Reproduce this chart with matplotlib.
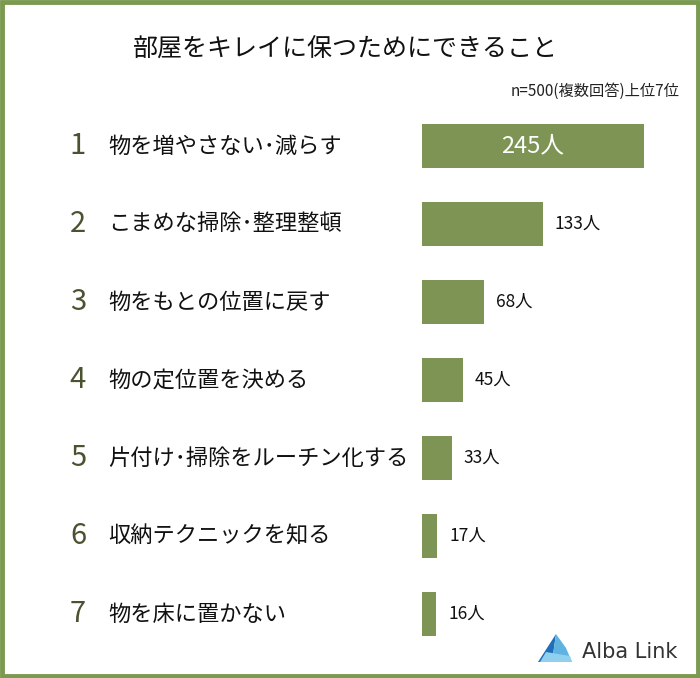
import matplotlib
matplotlib.use("Agg")
import matplotlib.pyplot as plt
from matplotlib.patches import Rectangle, Polygon

plt.rcParams['font.family'] = ['Noto Sans CJK JP', 'DejaVu Sans']

# data
ranks = ['1', '2', '3', '4', '5', '6', '7']
items = ['物を増やさない･減らす', 'こまめな掃除･整理整頓', '物をもとの位置に戻す',
         '物の定位置を決める', '片付け･掃除をルーチン化する', '収納テクニックを知る',
         '物を床に置かない']
counts = [245, 133, 68, 45, 33, 17, 16]

bar_color = '#7d9455'
frame_color = '#7a9a50'
W, H = 700, 678

fig = plt.figure(figsize=(7, 6.78), dpi=100)
fig.patch.set_facecolor('white')

# green frame
fig.patches.append(Rectangle((2 / W, 2 / H), 1 - 4 / W, 1 - 4 / H, transform=fig.transFigure,
                             fill=False, edgecolor=frame_color, linewidth=3.5))

# bar axes: x 422..680 px, y 107..653 px
ax = fig.add_axes([422 / W, 1 - 653 / H, 258 / W, 546 / H])
scale = 222 / 245  # px per person
ax.set_xlim(0, 258 / scale)
ax.set_ylim(len(counts) - 0.5, -0.5)
ypos = list(range(len(counts)))
ax.barh(ypos, counts, height=44 / 78, color=bar_color)
ax.axis('off')

for i, v in enumerate(counts):
    if i == 0:
        ax.text(v / 2, i, f'{v}人', color='white', fontsize=17, ha='center', va='center')
    else:
        ax.text(v + 12 / scale, i, f'{v}人', color='#111111', fontsize=12.5, ha='left', va='center')

# rank numbers and item labels
for i, (r, t) in enumerate(zip(ranks, items)):
    yc = 1 - (146 + 78 * i) / H
    fig.text(78 / W, yc, r, fontsize=21, color='#4a5230', ha='center', va='center')
    fig.text(108 / W, yc, t, fontsize=16, color='#111111', ha='left', va='center')

# title / subtitle
fig.text(345 / W, 1 - 50 / H, '部屋をキレイに保つためにできること', fontsize=18,
         color='#111111', ha='center', va='center')
fig.text(680 / W, 1 - 91 / H, 'n=500(複数回答)上位7位', fontsize=11,
         color='#222222', ha='right', va='center')

# logo
def fp(x, y):
    return (x / W, 1 - y / H)

fig.patches.append(Polygon([fp(556, 634), fp(538, 662), fp(552, 662)], closed=True,
                           transform=fig.transFigure, facecolor='#1d6fb8', edgecolor='none'))
fig.patches.append(Polygon([fp(556, 634), fp(552, 662), fp(572, 662), fp(566, 648)], closed=True,
                           transform=fig.transFigure, facecolor='#5fb3e0', edgecolor='none'))
fig.patches.append(Polygon([fp(546, 652), fp(570, 656), fp(572, 662), fp(540, 662)], closed=True,
                           transform=fig.transFigure, facecolor='#8fd0ef', edgecolor='none'))
fig.text(582 / W, 1 - 652 / H, 'Alba Link', fontsize=15, color='#333333',
         ha='left', va='center', family=['DejaVu Sans'])

fig.savefig('out.png', dpi=100, facecolor='white')
